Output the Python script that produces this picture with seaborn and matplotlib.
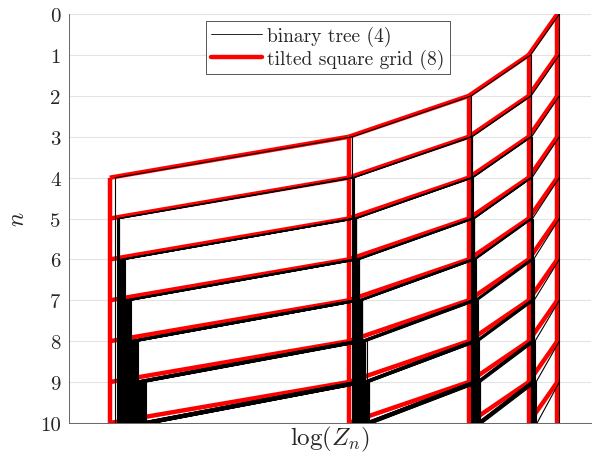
import numpy as np
import pandas as pd
import matplotlib
matplotlib.use('Agg')
import matplotlib.pyplot as plt
import seaborn as sns
from matplotlib.lines import Line2D

# ---- data ----------------------------------------------------------------
n_max = 10
y_ticks = list(range(0, 11))

# tilted square grid: position of column k on the log(Z_n) axis (column k starts at row k)
grid_x = [3.742, 3.522, 3.062, 2.142, 0.312]

# binary tree: extra shift a path picks up when it steps into column k at row n
shift_root = 0.015
shift_col1 = [0.000, 0.004, 0.008, 0.011, 0.015, 0.023, 0.027, 0.034, 0.042, 0.050]  # rows 1..10
shift_col2 = [0.004, 0.008, 0.011, 0.019, 0.023, 0.031, 0.034, 0.042, 0.050]         # rows 2..10
shift_col3 = [0.008, 0.015, 0.027, 0.038, 0.054, 0.069, 0.084, 0.100]                # rows 3..10
shift_col4 = [0.015, 0.031, 0.054, 0.077, 0.107, 0.138, 0.184]                       # rows 4..10
tree_shift = [None, shift_col1, shift_col2, shift_col3, shift_col4]

labels = ['binary tree (4)', 'tilted square grid (8)']

# ---- build segments -------------------------------------------------------
seg_rows = []
sid = 0
level = [(0, grid_x[0] + shift_root)]
for n in range(n_max):
    nxt = []
    for k, x in level:
        # stay in the same column
        seg_rows += [(sid, x, n), (sid, x, n + 1)]
        sid += 1
        nxt.append((k, x))
        # step to the next column
        if k + 1 < len(grid_x):
            xc = x - grid_x[k] + grid_x[k + 1] + tree_shift[k + 1][n - k]
            seg_rows += [(sid, x, n), (sid, xc, n + 1)]
            sid += 1
            nxt.append((k + 1, xc))
    level = nxt
tree = pd.DataFrame(seg_rows, columns=['seg', 'x', 'n'])

grid_rows = []
gid = 0
for k, x in enumerate(grid_x):
    grid_rows += [(gid, x, k), (gid, x, n_max)]
    gid += 1
    if k + 1 < len(grid_x):
        for n in range(k, n_max):
            grid_rows += [(gid, x, n), (gid, grid_x[k + 1], n + 1)]
            gid += 1
grid = pd.DataFrame(grid_rows, columns=['seg', 'x', 'n'])

# ---- plot -----------------------------------------------------------------
sns.set_theme(style='white')
plt.rcParams['font.family'] = ['cmr10', 'DejaVu Serif']
plt.rcParams['mathtext.fontset'] = 'cm'
plt.rcParams['axes.unicode_minus'] = False
plt.rcParams['axes.formatter.use_mathtext'] = True

fig = plt.figure(figsize=(5.93, 4.6), dpi=100)
ax = fig.add_axes([0.1164, 0.0783, 0.8802, 0.8887])

sns.lineplot(data=grid, x='x', y='n', units='seg', estimator=None, sort=False,
             color='red', lw=3.2, ax=ax, legend=False, solid_capstyle='butt')
sns.lineplot(data=tree, x='x', y='n', units='seg', estimator=None, sort=False,
             color='black', lw=0.8, ax=ax, legend=False)

ax.set_xlim(0, 4)
ax.set_ylim(10, 0)
ax.set_xticks([0, 1, 2, 3, 4])
ax.set_xticklabels([])
ax.set_yticks(y_ticks)
ax.set_yticklabels([str(t) for t in y_ticks], fontsize=15, color='#262626')
ax.tick_params(direction='in', length=4, width=0.6, color='#555555', pad=6)
ax.tick_params(axis='x', pad=1)
ax.yaxis.grid(True, color='#e3e3e3', lw=0.8)
ax.set_axisbelow(True)
for s in ['top', 'right']:
    ax.spines[s].set_visible(False)
for s in ['left', 'bottom']:
    ax.spines[s].set_color('#666666')
    ax.spines[s].set_linewidth(0.7)

ax.set_xlabel(r'$\log(Z_n)$', fontsize=18, labelpad=0, color='#262626')
ax.set_ylabel(r'$n$', fontsize=17, labelpad=8, color='#262626')

handles = [Line2D([], [], color='black', lw=0.6), Line2D([], [], color='red', lw=3.2)]
leg = ax.legend(handles, labels, loc='upper center', bbox_to_anchor=(0.496, 0.983),
                borderaxespad=0, fontsize=14, handlelength=2.6, handletextpad=0.3,
                fancybox=False, framealpha=1, edgecolor='#555555',
                borderpad=0.25, labelspacing=0.15)
leg.get_frame().set_linewidth(0.7)

fig.savefig('out.png', dpi=100)
